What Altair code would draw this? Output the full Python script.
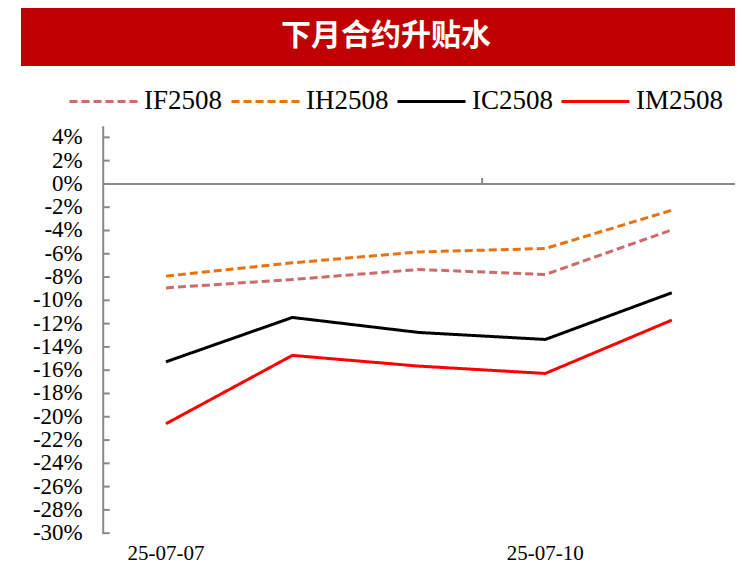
import altair as alt
import pandas as pd

# ---- data ----
dates = ["25-07-07", "25-07-08", "25-07-09", "25-07-10", "25-07-11"]
series_names = ["IF2508", "IH2508", "IC2508", "IM2508"]
if_vals = [-8.93, -8.21, -7.35, -7.78, -3.95]
ih_vals = [-7.92, -6.78, -5.84, -5.55, -2.26]
ic_vals = [-15.28, -11.47, -12.76, -13.36, -9.35]
im_vals = [-20.60, -14.73, -15.65, -16.28, -11.70]
y_tick_values = list(range(-30, 5, 2))
x_label_index = [0, 3]
x_tick_positions = [2.5]
title_text = "下月合约升贴水"

# ---- styles ----
colors = ["#CD6A6A", "#E8730E", "#000000", "#FF0000"]
dashes = [[8, 4], [8, 4], [1, 0], [1, 0]]
axis_gray = "#898989"
serif = "Liberation Serif"

rows = []
for name, vals in zip(series_names, [if_vals, ih_vals, ic_vals, im_vals]):
    for i, (d, v) in enumerate(zip(dates, vals)):
        rows.append({"series": name, "idx": i, "date": d, "value": v})
df = pd.DataFrame(rows)

W = 632.3
H = 407.5
xscale = alt.Scale(domain=[-0.5, 4.5], nice=False, zero=False)
yscale = alt.Scale(domain=[-30, 5], nice=False, zero=False)

x_axis = alt.Axis(labels=False, domain=False, ticks=False, grid=False, title=None)
y_axis = alt.Axis(labels=False, domain=True, domainColor=axis_gray, domainWidth=2,
                  ticks=False, grid=False, title=None)

legend = alt.Legend(
    orient="none", legendX=-34.7, legendY=-60, direction="horizontal",
    title=None, symbolType="stroke", symbolSize=4624, symbolStrokeWidth=3,
    labelFont=serif, labelFontSize=27, labelColor="black", labelOffset=5,
    columnPadding=2, padding=0,
)

lines = alt.Chart(df).mark_line(strokeWidth=3, strokeCap="butt", strokeJoin="round").encode(
    x=alt.X("idx:Q", scale=xscale, axis=x_axis),
    y=alt.Y("value:Q", scale=yscale, axis=y_axis),
    color=alt.Color("series:N", scale=alt.Scale(domain=series_names, range=colors), legend=legend),
    strokeDash=alt.StrokeDash("series:N", scale=alt.Scale(domain=series_names, range=dashes), legend=legend),
)

ytick_df = pd.DataFrame({"v": y_tick_values, "label": ["%d%%" % v for v in y_tick_values]})
y_ticks_layer = alt.Chart(ytick_df).mark_rule(
    color=axis_gray, strokeWidth=2).encode(
    y=alt.Y("v:Q", scale=yscale, axis=y_axis),
    x=alt.value(0), x2=alt.value(7),
)
y_labels_layer = alt.Chart(ytick_df).mark_text(
    font=serif, fontSize=23, color="black", align="right", baseline="middle").encode(
    y=alt.Y("v:Q", scale=yscale, axis=y_axis),
    x=alt.value(-20),
    text="label:N",
)

xlab_df = pd.DataFrame({"i": x_label_index, "label": [dates[i] for i in x_label_index]})
x_labels_layer = alt.Chart(xlab_df).mark_text(
    font=serif, fontSize=21, color="black", align="center", baseline="middle").encode(
    x=alt.X("i:Q", scale=xscale, axis=x_axis),
    y=alt.value(H + 21),
    text="label:N",
)

zero_line = alt.Chart(pd.DataFrame({"z": [0]})).mark_rule(
    color=axis_gray, strokeWidth=2).encode(
    y=alt.Y("z:Q", scale=yscale, axis=y_axis),
    x=alt.value(0), x2=alt.value(W),
)

x_tick_layer = alt.Chart(pd.DataFrame({"p": x_tick_positions, "y0": [0], "y1": [0.5]})).mark_rule(
    color=axis_gray, strokeWidth=2).encode(
    x=alt.X("p:Q", scale=xscale, axis=x_axis),
    y=alt.Y("y0:Q", scale=yscale, axis=y_axis),
    y2="y1:Q",
)

banner_df = pd.DataFrame({"t": [title_text]})
banner = alt.Chart(banner_df).mark_rect(color="#C00000").encode(
    x=alt.value(-81.7), x2=alt.value(W), y=alt.value(-117.7), y2=alt.value(-59.7),
)
banner_text = alt.Chart(banner_df).mark_text(
    font="Noto Sans CJK SC", fontWeight="bold", fontSize=30, color="white",
    align="center", baseline="middle").encode(
    text="t:N", x=alt.value(283.3), y=alt.value(-89.7),
)

chart = alt.layer(banner, banner_text, zero_line, y_ticks_layer, x_tick_layer,
                  y_labels_layer, x_labels_layer, lines).properties(
    width=W, height=H,
    autosize=alt.AutoSizeParams(type="none"),
    padding={"left": 94.7, "top": 117.7, "right": 0, "bottom": 36},
    background="white",
).configure_view(stroke=None)

chart.save("out.html", embed_options={"renderer": "svg", "actions": False})
